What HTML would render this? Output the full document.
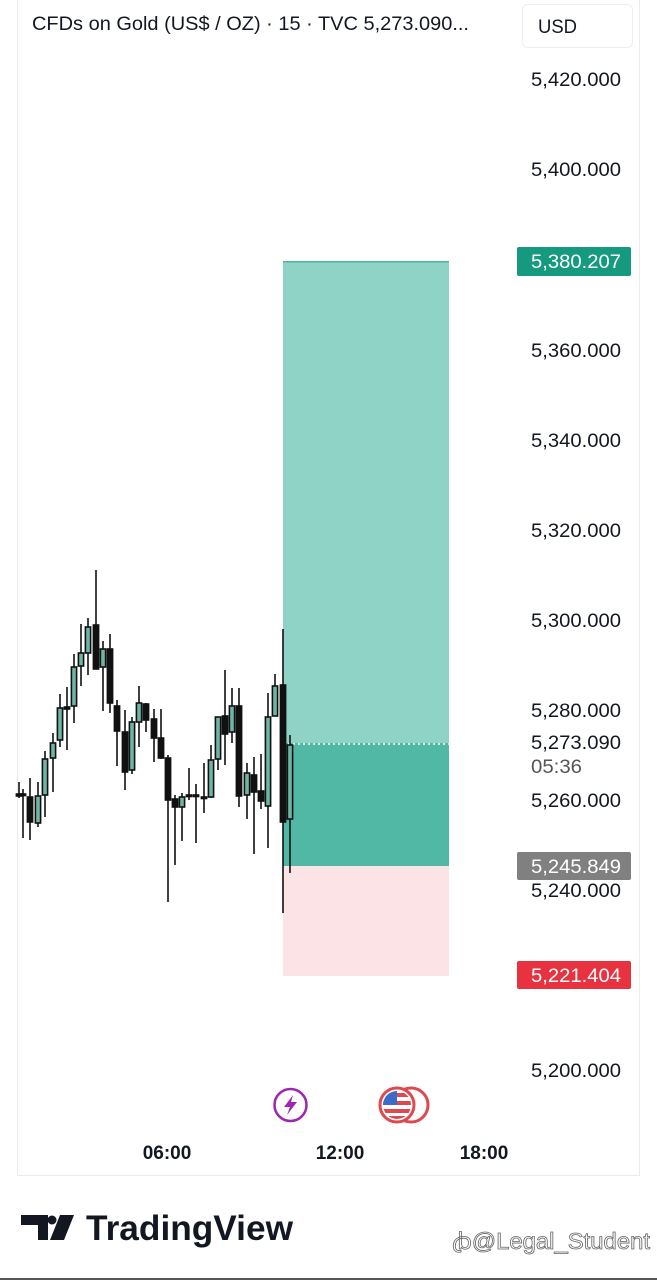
<!DOCTYPE html>
<html><head><meta charset="utf-8"><style>
html,body{margin:0;padding:0;background:#fff;width:657px;height:1280px;overflow:hidden}
svg{display:block}
text{font-family:"Liberation Sans",sans-serif}
</style></head><body>
<svg width="657" height="1280" viewBox="0 0 657 1280" xmlns="http://www.w3.org/2000/svg">
<rect x="17.5" y="-2" width="622" height="1177.5" fill="#fff" stroke="#ececec" stroke-width="1"/>
<!-- position box -->
<rect x="283" y="261" width="166" height="482" fill="#8fd3c7"/>
<rect x="283" y="261" width="166" height="1.5" fill="#4fb3a2"/>
<rect x="283" y="743" width="166" height="123" fill="#52b8a6"/>
<rect x="283" y="866" width="166" height="110" fill="#fce4e6"/>
<line x1="283" y1="744" x2="449" y2="744" stroke="#fff" stroke-width="1.5" stroke-dasharray="2,3"/>
<g id="c" stroke="#111" stroke-width="1.6" fill="#6fb5a5"></g>
<!-- price axis -->
<g font-size="19" fill="#131722">
<text x="531" y="86" textLength="90" lengthAdjust="spacingAndGlyphs">5,420.000</text>
<text x="531" y="176" textLength="90" lengthAdjust="spacingAndGlyphs">5,400.000</text>
<text x="531" y="357" textLength="90" lengthAdjust="spacingAndGlyphs">5,360.000</text>
<text x="531" y="447" textLength="90" lengthAdjust="spacingAndGlyphs">5,340.000</text>
<text x="531" y="537" textLength="90" lengthAdjust="spacingAndGlyphs">5,320.000</text>
<text x="531" y="627" textLength="90" lengthAdjust="spacingAndGlyphs">5,300.000</text>
<text x="531" y="717" textLength="90" lengthAdjust="spacingAndGlyphs">5,280.000</text>
<text x="531" y="749" textLength="90" lengthAdjust="spacingAndGlyphs">5,273.090</text>
<text x="531" y="807" textLength="90" lengthAdjust="spacingAndGlyphs">5,260.000</text>
<text x="531" y="897" textLength="90" lengthAdjust="spacingAndGlyphs">5,240.000</text>
<text x="531" y="1077" textLength="90" lengthAdjust="spacingAndGlyphs">5,200.000</text>
</g>
<text x="531" y="773" font-size="19" fill="#555" textLength="51" lengthAdjust="spacingAndGlyphs">05:36</text>
<rect x="517" y="247" width="114" height="29" rx="2" fill="#159a80"/>
<text x="531" y="268" font-size="19" fill="#fff" textLength="90" lengthAdjust="spacingAndGlyphs">5,380.207</text>
<rect x="517" y="852" width="114" height="28" rx="2" fill="#808080"/>
<text x="531" y="873" font-size="19" fill="#fff" textLength="90" lengthAdjust="spacingAndGlyphs">5,245.849</text>
<rect x="517" y="961" width="114" height="28" rx="2" fill="#e8323f"/>
<text x="531" y="982" font-size="19" fill="#fff" textLength="90" lengthAdjust="spacingAndGlyphs">5,221.404</text>
<!-- header -->
<text x="32" y="30" font-size="19" fill="#131722" textLength="437" lengthAdjust="spacingAndGlyphs">CFDs on Gold (US$ / OZ) · 15 · TVC  5,273.090...</text>
<rect x="522.5" y="4.5" width="110" height="43" rx="5" fill="#fff" stroke="#eee"/>
<text x="538" y="33" font-size="19" fill="#131722" textLength="39" lengthAdjust="spacingAndGlyphs">USD</text>
<!-- icons -->
<circle cx="290.5" cy="1105" r="16" fill="#fff" stroke="#9c27b0" stroke-width="2.5"/>
<path d="M293 1095 L284 1107 L290 1107 L287 1115 L297 1102 L291 1102 Z" fill="#9c27b0"/>
<circle cx="411" cy="1105" r="17" fill="#fff" stroke="#e0484f" stroke-width="3"/>
<g>
<circle cx="397" cy="1105" r="17" fill="#fff" stroke="#e0484f" stroke-width="3"/>
<clipPath id="fc"><circle cx="397" cy="1105" r="14"/></clipPath>
<g clip-path="url(#fc)">
<rect x="383" y="1091" width="28" height="28" fill="#fff"/>
<rect x="383" y="1093" width="28" height="4" fill="#e0484f"/>
<rect x="383" y="1101" width="28" height="4" fill="#e0484f"/>
<rect x="383" y="1109" width="28" height="4" fill="#e0484f"/>
<rect x="383" y="1116" width="28" height="4" fill="#e0484f"/>
<rect x="383" y="1091" width="14" height="14" fill="#3b6bc6"/>
</g></g>
<!-- time axis -->
<g font-size="19" font-weight="bold" fill="#131722" text-anchor="middle">
<text x="167" y="1159">06:00</text>
<text x="340" y="1159">12:00</text>
<text x="484" y="1159">18:00</text>
</g>
<!-- logo -->
<path d="M21 1215 H48 V1240 H38 V1225 H21 Z" fill="#131722"/>
<circle cx="52" cy="1220" r="4.5" fill="#131722"/>
<path d="M60 1215 H74 L64 1240 H50 Z" fill="#131722"/>
<text x="86" y="1240" font-size="35" font-weight="bold" fill="#131722" textLength="207" lengthAdjust="spacingAndGlyphs">TradingView</text>
<text x="452" y="1249" font-size="23" fill="#fff" stroke="#666" stroke-width="0.8" textLength="198" lengthAdjust="spacingAndGlyphs">ꞗ@Legal_Student</text>
<rect x="0" y="1278" width="657" height="2" fill="#555"/>
</svg>
<script>
var d=[[19,782,798,794,796,0],[23,789,838,794,795,0],[30,778,840,797,822,0],[38,782,827,796,823,1],[45,751,817,759,795,1],[53,733,792,743,758,1],[60,694,747,708,740,1],[67,687,750,707,709,0],[74,654,723,667,706,1],[81,624,686,653,666,1],[88,618,675,627,653,1],[96,570,669,625,669,0],[103,641,711,649,667,1],[110,634,713,649,703,0],[117,700,766,706,731,0],[125,710,790,732,772,0],[132,717,774,722,770,1],[139,686,747,703,722,1],[146,703,732,704,720,0],[154,709,762,719,738,0],[161,709,759,738,758,0],[168,755,902,758,800,0],[175,795,865,799,807,0],[182,793,841,797,807,1],[189,768,800,795,796,0],[196,784,843,795,796,0],[204,763,813,797,798,0],[211,745,798,760,797,1],[218,717,770,717,759,1],[225,670,765,716,734,0],[232,688,743,706,732,1],[239,688,807,706,796,0],[247,763,819,773,795,1],[254,757,854,775,792,0],[261,754,809,791,801,0],[268,693,848,717,806,1],[275,674,716,686,716,1],[283,629,913,685,822,0],[290,735,873,745,819,1]];
var g=document.getElementById('c'),ns='http://www.w3.org/2000/svg',h='';
d.forEach(function(c){var x=c[0];h+='<line x1="'+x+'" y1="'+c[1]+'" x2="'+x+'" y2="'+c[2]+'"/>';
var hh=Math.max(c[4]-c[3],1.5);h+='<rect x="'+(x-2.6)+'" y="'+c[3]+'" width="5.2" height="'+hh+'" fill="'+(c[5]?'#6fb5a5':'#111')+'"/>';});
g.innerHTML=h;
</script>
</body></html>
